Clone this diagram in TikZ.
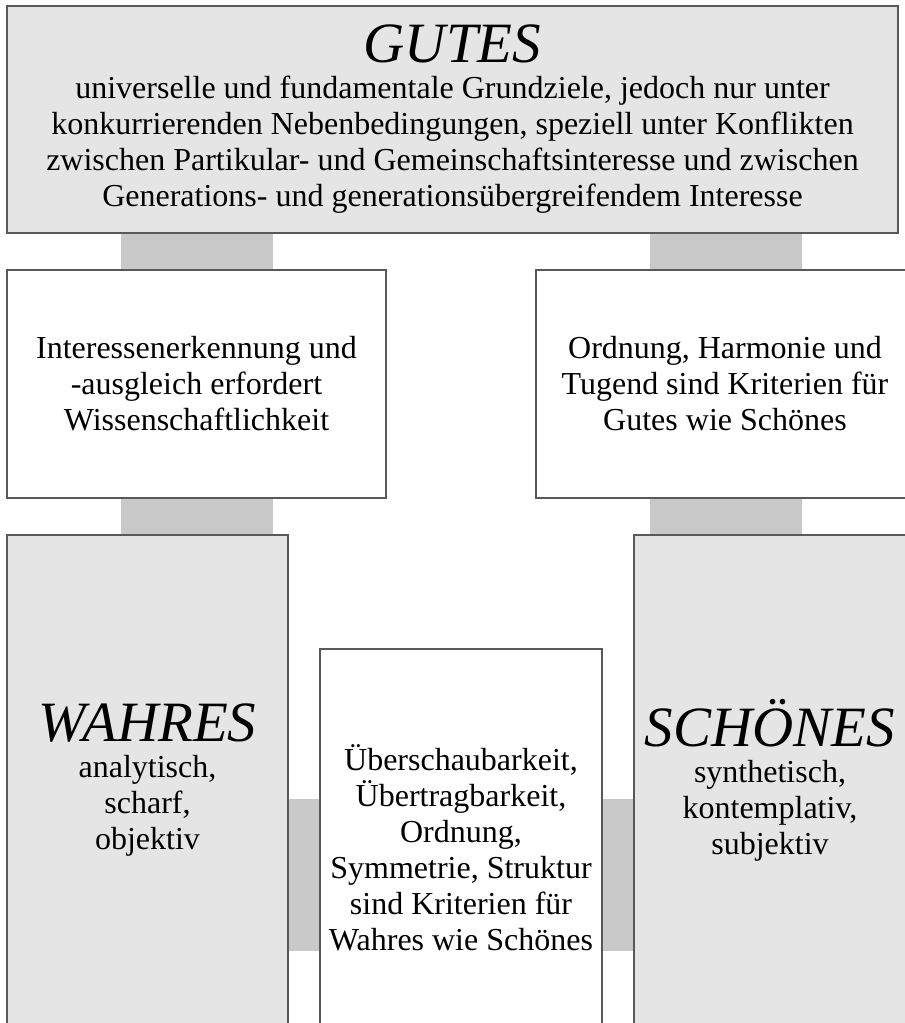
\documentclass[tikz,border=0pt]{standalone}
\usepackage{fontspec}
\setmainfont{Liberation Serif}
\usetikzlibrary{backgrounds}

\begin{document}
\begin{tikzpicture}[%
    x=1pt, y=-1pt,              % Work in pixel units, top to bottom
    inner sep=0pt,              % Boxes are sized by hand
    ]
% -------------------------------------------------
% Box and connector styles
\tikzset{
  base/.style={draw=black!65, line width=1.2pt, align=center,
    font=\fontsize{32}{36}\selectfont},
  haupt/.style={base, fill=black!10},
  zwischen/.style={base, fill=white},
  % Broad grey bars between the boxes
  bar/.style={fill=black!21}
}
\newcommand{\titel}[1]{{\fontsize{57}{60}\selectfont\itshape #1}}
\useasboundingbox (0,0) rectangle (905,1023);
% -------------------------------------------------
% Start by placing the boxes
\node [haupt, minimum width=891, minimum height=227] (gutes) at (452.5,119.5)
  {\titel{GUTES}\\
   universelle und fundamentale Grundziele, jedoch nur unter\\
   konkurrierenden Nebenbedingungen, speziell unter Konflikten\\
   zwischen Partikular- und Gemeinschaftsinteresse und zwischen\\
   Generations- und generationsübergreifendem Interesse};
\node [zwischen, minimum width=379, minimum height=228] (ausgleich) at (196.5,384)
  {Interessenerkennung und\\ -ausgleich erfordert\\ Wissenschaftlichkeit};
\node [zwischen, minimum width=378, minimum height=228] (ordnung) at (725,384)
  {Ordnung, Harmonie und\\ Tugend sind Kriterien für\\ Gutes wie Schönes};
\node [haupt, minimum width=281, minimum height=490] (wahres) at (147.5,780)
  {\titel{WAHRES}\\ analytisch,\\ scharf,\\ objektiv};
\node [zwischen, minimum width=282, minimum height=398] (kriterien) at (461,848)
  {Überschaubarkeit,\\ Übertragbarkeit,\\ Ordnung,\\ Symmetrie, Struktur\\
   sind Kriterien für\\ Wahres wie Schönes};
\node [haupt, minimum width=272, minimum height=490] (schoenes) at (770,780)
  {\titel{SCHÖNES}\\ synthetisch,\\ kontemplativ,\\ subjektiv};

% -------------------------------------------------
% Connect the boxes with the grey bars
\begin{scope}[on background layer]
  \fill [bar] (gutes.south -| 121,0) rectangle (ausgleich.north -| 273,0);
  \fill [bar] (gutes.south -| 650,0) rectangle (ordnung.north -| 802,0);
  \fill [bar] (ausgleich.south -| 121,0) rectangle (wahres.north -| 273,0);
  \fill [bar] (ordnung.south -| 650,0) rectangle (schoenes.north -| 802,0);
  \fill [bar] (wahres.east |- 0,799) rectangle (kriterien.west |- 0,951);
  \fill [bar] (kriterien.east |- 0,799) rectangle (schoenes.west |- 0,951);
\end{scope}
% -------------------------------------------------
\end{tikzpicture}
\end{document}
